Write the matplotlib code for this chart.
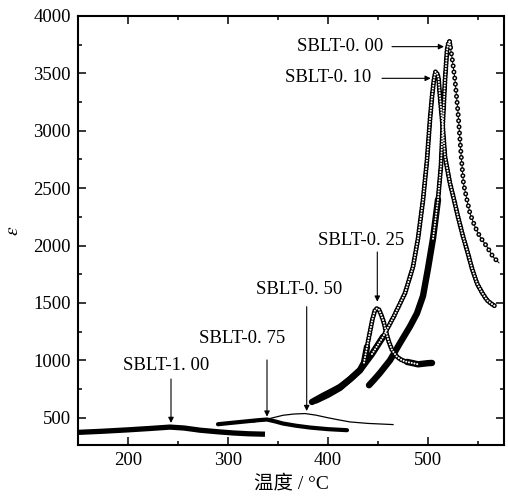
import matplotlib
matplotlib.use("Agg")
import numpy as np
import matplotlib.pyplot as plt
from matplotlib.ticker import MultipleLocator

plt.rcParams['font.family'] = ['Liberation Serif', 'Noto Sans CJK SC']
plt.rcParams['mathtext.fontset'] = 'stix'
plt.rcParams['lines.scale_dashes'] = False

# Permittivity vs temperature for SBLT-x ceramics (T in °C)
t_000 = [441, 446, 452, 462, 472, 482, 489, 495, 500, 505, 510, 513, 515, 517, 519,
         520.5, 521.5, 522.5, 524, 527, 530, 533, 535.5, 539, 542, 547, 552, 559, 565, 571]
e_000 = [783, 830, 890, 1000, 1150, 1295, 1410, 1560, 1800, 2060, 2400, 2700, 3100, 3440, 3700,
         3770, 3776, 3720, 3640, 3442, 3160, 2800, 2540, 2396, 2280, 2163, 2076, 1989, 1902, 1849]

t_010 = [384, 395, 405, 412, 422, 432, 444, 455, 466, 477, 485, 490, 495, 499, 502, 504,
         506, 507.5, 509, 510.5, 512, 515, 517, 522, 526, 530, 535, 539, 544, 549, 554, 559, 563, 567]
e_010 = [637, 690, 735, 768, 835, 914, 1055, 1204, 1385, 1585, 1814, 2060, 2396, 2744, 3100, 3296,
         3450, 3514, 3500, 3460, 3296, 3006, 2773, 2541, 2400, 2250, 2080, 1960, 1800, 1670, 1590, 1524, 1495, 1472]

t_025 = [388, 400, 412, 424, 432, 436, 439, 442, 444.5, 447, 449, 451, 453, 455.5, 458, 460.5,
         464, 469, 474, 479, 485, 490, 495, 500, 504]
e_025 = [650, 700, 760, 850, 914, 980, 1117, 1250, 1360, 1437, 1452, 1440, 1400, 1340, 1250, 1170,
         1090, 1030, 1000, 986, 975, 965, 970, 975, 977]

t_050 = [325, 342, 355, 366, 377, 388, 399, 410, 422, 440, 465]
e_050 = [462, 493, 521, 532, 536, 522, 501, 482, 463, 450, 440]

t_075 = [290, 300, 315, 330, 339, 347, 355, 368, 382, 400, 419]
e_075 = [443, 452, 465, 478, 484, 468, 449, 430, 414, 400, 391]

t_100 = [150, 175, 200, 222, 242, 256, 272, 290, 305, 320, 337]
e_100 = [372, 382, 394, 406, 418, 410, 391, 377, 367, 360, 356]

# label text, arrow tail and arrow head (data coordinates)
labels = ['SBLT-0. 00', 'SBLT-0. 10', 'SBLT-0. 25', 'SBLT-0. 50', 'SBLT-0. 75', 'SBLT-1. 00']
label_xy = [(412, 3733), (400, 3468), (433.5, 2048), (371, 1613), (314, 1194), (238, 954)]
arrow_tail = [(464, 3733), (454, 3457), (449.3, 1944), (378.7, 1467), (339, 1003), (243, 837)]
arrow_head = [(516, 3733), (502.7, 3457), (449.3, 1511), (378.7, 558), (339, 509), (243, 454)]

# how each measured curve is rendered: solid where the markers pile up, ring chain elsewhere
# (t_min, t_max, spacing in pt or 'solid')
dense_runs = {
    '000': [(440, 505, 'solid'), (505, 521.5, 2.0), (521.5, 572, 4.4)],
    '010': [(380, 444, 'solid'), (444, 568, 2.0)],
    '025': [(380, 436, 'solid'), (436, 485, 2.0), (485, 505, 'solid')],
}


def draw_measured(ax, t, e, runs):
    t = np.asarray(t, float)
    e = np.asarray(e, float)
    for lo, hi, kind in runs:
        idx = np.nonzero((t >= lo) & (t <= hi))[0]
        i0, i1 = max(idx[0] - 1, 0), min(idx[-1] + 1, len(t) - 1)
        if t[i0] < lo - 1e-9 and kind != 'solid':
            i0 = idx[0]
        tt, ee = t[i0:i1 + 1], e[i0:i1 + 1]
        if kind == 'solid':
            ax.plot(tt, ee, color='black', lw=4.6, solid_capstyle='round',
                    solid_joinstyle='round', zorder=3)
        else:
            ax.plot(tt, ee, color='black', lw=0.7, zorder=3)
            ax.plot(tt, ee, color='black', lw=3.6, ls=(0, (0.01, kind)),
                    dash_capstyle='round', zorder=4)
            ax.plot(tt, ee, color='white', lw=1.5, ls=(0, (0.01, kind)),
                    dash_capstyle='round', zorder=5)


fig = plt.figure(figsize=(5.08, 4.98), dpi=100)
ax = fig.add_axes([78 / 508, 1 - 445 / 498, (504 - 78) / 508, (445 - 16) / 498])

draw_measured(ax, t_010, e_010, dense_runs['010'])
draw_measured(ax, t_025, e_025, dense_runs['025'])
draw_measured(ax, t_000, e_000, dense_runs['000'])

ax.plot(t_100, e_100, color='black', lw=3.8, solid_capstyle='butt', zorder=3)
ax.plot(t_075, e_075, color='black', lw=3.0, solid_capstyle='round', zorder=3)
ax.plot(t_050, e_050, color='black', lw=0.9, zorder=3)

for txt, pos, tail, head in zip(labels, label_xy, arrow_tail, arrow_head):
    ax.text(pos[0], pos[1], txt, ha='center', va='center', fontsize=13.5)
    ax.annotate('', xy=head, xytext=tail,
                arrowprops=dict(arrowstyle='-|>', color='black', lw=0.8,
                                mutation_scale=8, shrinkA=0, shrinkB=0))

ax.set_xlim(150, 576)
ax.set_ylim(262, 4000)
ax.xaxis.set_major_locator(MultipleLocator(100))
ax.xaxis.set_minor_locator(MultipleLocator(50))
ax.yaxis.set_major_locator(MultipleLocator(500))
ax.yaxis.set_minor_locator(MultipleLocator(250))
ax.tick_params(which='both', direction='in', top=True, right=True, labelsize=13.5, width=1.1)
ax.tick_params(which='major', length=5.5, pad=5)
ax.tick_params(which='minor', length=3)
for s in ax.spines.values():
    s.set_linewidth(1.5)

ax.set_xlabel('温度 / °C', fontsize=14, labelpad=4)
ax.set_ylabel(r'$\varepsilon$', fontsize=14, labelpad=8)

fig.savefig('out.png', dpi=100)
